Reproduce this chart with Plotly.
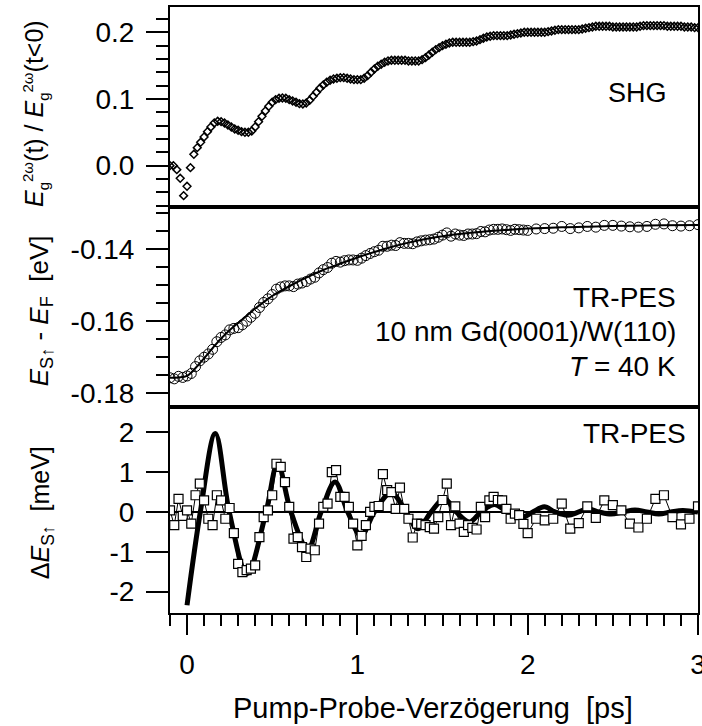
import plotly.graph_objects as go
from plotly.subplots import make_subplots

# ---------------- data ----------------
# SHG (top panel): pump-probe delay [ps] and normalised field change
shg_t = [
    -0.10, -0.08, -0.06, -0.04, -0.02, 0.00, 0.02, 0.04, 0.06, 0.08,
    0.10, 0.12, 0.14, 0.16, 0.18, 0.20, 0.22, 0.24, 0.26, 0.28,
    0.30, 0.32, 0.34, 0.36, 0.38, 0.40, 0.42, 0.44, 0.46, 0.48,
    0.50, 0.52, 0.54, 0.56, 0.58, 0.60, 0.62, 0.64, 0.66, 0.68,
    0.70, 0.72, 0.74, 0.76, 0.78, 0.80, 0.82, 0.84, 0.86, 0.88,
    0.90, 0.92, 0.94, 0.96, 0.98, 1.00, 1.02, 1.04, 1.06, 1.08,
    1.10, 1.12, 1.14, 1.16, 1.18, 1.20, 1.22, 1.24, 1.26, 1.28,
    1.30, 1.32, 1.34, 1.36, 1.38, 1.40, 1.42, 1.44, 1.46, 1.48,
    1.50, 1.52, 1.54, 1.56, 1.58, 1.60, 1.62, 1.64, 1.66, 1.68,
    1.70, 1.72, 1.74, 1.76, 1.78, 1.80, 1.82, 1.84, 1.86, 1.88,
    1.90, 1.92, 1.94, 1.96, 1.98, 2.00, 2.02, 2.04, 2.06, 2.08,
    2.10, 2.12, 2.14, 2.16, 2.18, 2.20, 2.22, 2.24, 2.26, 2.28,
    2.30, 2.32, 2.34, 2.36, 2.38, 2.40, 2.42, 2.44, 2.46, 2.48,
    2.50, 2.52, 2.54, 2.56, 2.58, 2.60, 2.62, 2.64, 2.66, 2.68,
    2.70, 2.72, 2.74, 2.76, 2.78, 2.80, 2.82, 2.84, 2.86, 2.88,
    2.90, 2.92, 2.94, 2.96, 2.98, 3.00,
]
shg_val = [
    0.000, 0.000, -0.006, -0.019, -0.045, -0.031, -0.003, 0.017, 0.027, 0.035,
    0.043, 0.051, 0.058, 0.064, 0.0665, 0.066, 0.064, 0.061, 0.058, 0.055,
    0.053, 0.051, 0.050, 0.050, 0.052, 0.058, 0.066, 0.074, 0.082, 0.089,
    0.095, 0.099, 0.101, 0.1015, 0.101, 0.099, 0.097, 0.095, 0.093, 0.0925,
    0.094, 0.098, 0.104, 0.110, 0.116, 0.121, 0.125, 0.128, 0.130, 0.131,
    0.132, 0.132, 0.131, 0.130, 0.129, 0.129, 0.129, 0.131, 0.135, 0.140,
    0.145, 0.149, 0.152, 0.155, 0.157, 0.158, 0.158, 0.158, 0.158, 0.158,
    0.157, 0.157, 0.157, 0.157, 0.159, 0.162, 0.166, 0.170, 0.174, 0.177,
    0.180, 0.182, 0.184, 0.185, 0.185, 0.185, 0.185, 0.185, 0.185, 0.186,
    0.187, 0.189, 0.191, 0.193, 0.194, 0.195, 0.195, 0.195, 0.195, 0.195,
    0.196, 0.197, 0.198, 0.199, 0.200, 0.200, 0.200, 0.200, 0.200, 0.200,
    0.200, 0.201, 0.202, 0.203, 0.204, 0.204, 0.204, 0.204, 0.204, 0.204,
    0.204, 0.205, 0.206, 0.207, 0.208, 0.209, 0.209, 0.209, 0.209, 0.209,
    0.208, 0.208, 0.208, 0.208, 0.208, 0.208, 0.208, 0.208, 0.209, 0.210,
    0.210, 0.210, 0.210, 0.210, 0.210, 0.210, 0.209, 0.209, 0.209, 0.209,
    0.209, 0.208, 0.208, 0.208, 0.207, 0.207,
]

# TR-PES (middle panel): delay [ps] and binding energy E_S - E_F [eV]
pes_t = [
    -0.100, -0.075, -0.050, -0.025, 0.000, 0.025, 0.050, 0.075, 0.100, 0.125,
    0.150, 0.175, 0.200, 0.225, 0.250, 0.275, 0.300, 0.325, 0.350, 0.375,
    0.400, 0.425, 0.450, 0.475, 0.500, 0.525, 0.550, 0.575, 0.600, 0.625,
    0.650, 0.675, 0.700, 0.725, 0.750, 0.775, 0.800, 0.825, 0.850, 0.875,
    0.900, 0.925, 0.950, 0.975, 1.000, 1.025, 1.050, 1.075, 1.100, 1.125,
    1.150, 1.175, 1.200, 1.225, 1.250, 1.275, 1.300, 1.325, 1.350, 1.375,
    1.400, 1.425, 1.450, 1.475, 1.500, 1.525, 1.550, 1.575, 1.600, 1.625,
    1.650, 1.675, 1.700, 1.725, 1.750, 1.775, 1.800, 1.825, 1.850, 1.875,
    1.900, 1.925, 1.950, 1.975,
    2.00, 2.05, 2.10, 2.15, 2.20, 2.25, 2.30, 2.35, 2.40, 2.45,
    2.50, 2.55, 2.60, 2.65, 2.70, 2.75, 2.80, 2.85, 2.90, 2.95, 3.00,
]
pes_energy = [
    -0.1757, -0.1760, -0.1753, -0.1756, -0.1752, -0.1745, -0.1726, -0.1710, -0.1700, -0.1691,
    -0.1678, -0.1657, -0.1645, -0.1638, -0.1624, -0.1620, -0.1618, -0.1610, -0.1600, -0.1589,
    -0.1578, -0.1562, -0.1548, -0.1538, -0.1526, -0.1511, -0.1505, -0.1502, -0.1502, -0.1504,
    -0.1497, -0.1494, -0.1490, -0.1483, -0.1478, -0.1466, -0.1457, -0.1451, -0.1439, -0.1434,
    -0.1436, -0.1432, -0.1430, -0.1430, -0.1431, -0.1425, -0.1418, -0.1412, -0.1407, -0.1403,
    -0.1392, -0.1392, -0.1389, -0.1390, -0.1382, -0.1384, -0.1384, -0.1385, -0.1380, -0.1377,
    -0.1375, -0.1374, -0.1372, -0.1367, -0.1361, -0.1355, -0.1364, -0.1358, -0.1361, -0.1362,
    -0.1358, -0.1358, -0.1357, -0.1351, -0.1352, -0.1347, -0.1345, -0.1345, -0.1344, -0.1346,
    -0.1348, -0.1345, -0.1346, -0.1347,
    -0.1348, -0.1344, -0.1343, -0.1342, -0.1337, -0.1343, -0.1341, -0.1337, -0.1339, -0.1334,
    -0.1334, -0.1336, -0.1338, -0.1339, -0.1337, -0.1331, -0.1330, -0.1335, -0.1336, -0.1335, -0.1332,
]
# smooth fit through TR-PES data
pes_fit_t = [-0.1, -0.05, 0.0, 0.05, 0.1, 0.15, 0.2, 0.25, 0.3, 0.35, 0.4, 0.45, 0.5,
             0.6, 0.7, 0.8, 0.9, 1.0, 1.1, 1.2, 1.3, 1.4, 1.5, 1.6, 1.7, 1.8, 1.9,
             2.0, 2.2, 2.4, 2.6, 2.8, 3.0]
pes_fit_energy = [-0.1757, -0.1756, -0.1752, -0.1730, -0.1703, -0.1675, -0.1648, -0.1625,
                  -0.1605, -0.1585, -0.1565, -0.1547, -0.1530, -0.1503, -0.1479, -0.1458,
                  -0.1440, -0.1423, -0.1408, -0.1394, -0.1382, -0.1372, -0.1364, -0.1358,
                  -0.1353, -0.1349, -0.1346, -0.1343, -0.1339, -0.1337, -0.1335, -0.1334,
                  -0.1333]

# Residual oscillation (bottom panel) [meV], same delays as pes_t
osc_residual = [
    0.04, -0.33, 0.33, -0.10, 0.04, -0.29, 0.42, 0.71, 0.29, -0.17,
    -0.33, 0.42, 0.29, -0.17, 0.10, -0.53, -1.30, -1.51, -1.46, -1.42,
    -1.34, -0.63, -0.13, 0.04, 0.42, 1.21, 1.13, 0.75, 0.13, -0.67,
    -0.63, -0.88, -1.13, -0.92, -0.96, -0.29, 0.13, 0.21, 1.00, 1.05,
    0.38, 0.38, 0.13, -0.29, -0.84, -0.60, -0.33, 0.00, 0.13, 0.15,
    0.95, 0.55, 0.50, 0.08, 0.61, 0.08, -0.17, -0.64, -0.29, -0.30,
    -0.33, -0.38, -0.42, -0.13, 0.30, 0.71, -0.33, 0.14, -0.29, -0.50,
    -0.33, -0.40, -0.44, 0.13, -0.13, 0.29, 0.38, 0.30, 0.29, 0.08,
    -0.17, -0.04, -0.08, -0.30,
    -0.53, -0.17, -0.21, -0.17, 0.21, -0.42, -0.28, 0.14, -0.15, 0.29,
    0.17, 0.04, -0.29, -0.39, -0.17, 0.33, 0.42, -0.13, -0.31, -0.17, 0.14,
]
# damped-oscillation fit (extrema and zero crossings) [meV]
osc_fit_t = [0.0, 0.078, 0.166, 0.248, 0.352, 0.464, 0.532, 0.61, 0.709, 0.787,
             0.869, 0.943, 1.022, 1.10, 1.198, 1.286, 1.355, 1.433, 1.511, 1.58,
             1.658, 1.726, 1.805, 1.88, 1.971, 2.03, 2.098, 2.16, 2.235, 2.30,
             2.352, 2.42, 2.49, 2.56, 2.63, 2.70, 2.77, 2.84, 2.91, 3.0]
osc_fit_val = [-2.34, 0.0, 1.97, 0.0, -1.55, 0.0, 1.21, 0.0, -0.92, 0.0,
               0.75, 0.0, -0.59, 0.0, 0.48, 0.0, -0.42, 0.0, 0.33, 0.0,
               -0.25, 0.0, 0.19, 0.0, -0.13, 0.0, 0.13, 0.0, -0.08, 0.0,
               0.08, 0.0, -0.05, 0.0, 0.05, 0.0, -0.05, 0.0, 0.04, 0.0]

x_ticks = [0, 1, 2, 3]
top_ticks = [0.0, 0.1, 0.2]
mid_ticks = [-0.18, -0.16, -0.14]
bot_ticks = [-2, -1, 0, 1, 2]

# ---------------- figure ----------------
FONT = "Liberation Sans, Arial, Helvetica, sans-serif"
BLACK = "black"

fig = make_subplots(rows=3, cols=1, shared_xaxes=True, vertical_spacing=0)

fig.add_trace(go.Scatter(
    x=shg_t, y=shg_val, mode="markers",
    marker=dict(symbol="diamond-open", size=6, color=BLACK, line=dict(width=1.5, color=BLACK)),
), row=1, col=1)

fig.add_trace(go.Scatter(
    x=pes_fit_t, y=pes_fit_energy, mode="lines",
    line=dict(color=BLACK, width=2, shape="spline"),
), row=2, col=1)
fig.add_trace(go.Scatter(
    x=pes_t, y=pes_energy, mode="markers",
    marker=dict(symbol="circle-open", size=10, color=BLACK, line=dict(width=1, color=BLACK)),
), row=2, col=1)

fig.add_trace(go.Scatter(
    x=osc_fit_t, y=osc_fit_val, mode="lines",
    line=dict(color=BLACK, width=5, shape="spline", smoothing=1.0),
), row=3, col=1)
fig.add_trace(go.Scatter(
    x=pes_t, y=osc_residual, mode="lines+markers",
    line=dict(color=BLACK, width=1),
    marker=dict(symbol="square", size=9, color="white", line=dict(width=1.2, color=BLACK)),
), row=3, col=1)

TICK_FONT = dict(size=28, color=BLACK, family=FONT)
axis_common = dict(
    showline=True, linewidth=2, linecolor=BLACK, mirror=True,
    showgrid=False, zeroline=False, automargin=False,
    tickfont=TICK_FONT, tickwidth=2, tickcolor=BLACK,
)

x_range = [-0.1, 3.0]
fig.update_xaxes(range=x_range, **axis_common)
fig.update_xaxes(ticks="", showticklabels=False, row=1, col=1)
fig.update_xaxes(ticks="", showticklabels=False, row=2, col=1)
fig.update_xaxes(
    ticks="outside", ticklen=20, showticklabels=True,
    tickmode="array", tickvals=x_ticks, ticktext=[str(v) for v in x_ticks],
    ticklabelstandoff=5, ticklabeloverflow="allow",
    minor=dict(ticks="outside", ticklen=11, tickwidth=2, tickcolor=BLACK,
               tick0=0, dtick=0.1, showgrid=False),
    row=3, col=1,
)

minor_y = dict(ticks="outside", ticklen=12, tickwidth=2, tickcolor=BLACK, showgrid=False)
fig.update_yaxes(**axis_common)
fig.update_yaxes(
    domain=[0.67, 1.0], range=[-0.062, 0.238],
    ticks="outside", ticklen=22, tickmode="array", tickvals=top_ticks,
    ticktext=[f"{v:.1f}" for v in top_ticks], ticklabelstandoff=6,
    minor=dict(tick0=0, dtick=0.02, **minor_y),
    row=1, col=1,
)
fig.update_yaxes(
    domain=[0.34, 0.67], range=[-0.1838, -0.1283],
    ticks="outside", ticklen=22, tickmode="array", tickvals=mid_ticks,
    ticktext=[f"{v:.2f}" for v in mid_ticks], ticklabelstandoff=6,
    minor=dict(tick0=-0.14, dtick=0.005, **minor_y),
    row=2, col=1,
)
fig.update_yaxes(
    domain=[0.0, 0.34], range=[-2.535, 2.635],
    ticks="outside", ticklen=22, tickmode="array", tickvals=bot_ticks,
    ticktext=[str(v) for v in bot_ticks], ticklabelstandoff=6,
    zeroline=True, zerolinewidth=2, zerolinecolor=BLACK,
    row=3, col=1,
)

ann_font = dict(family=FONT, size=28, color=BLACK)
SUP = "<span style='font-size:15px'>{}</span>"
top_title = ("<i>E</i><sub>" + SUP.format("g") + "</sub><sup>" + SUP.format("2\u03c9") + "</sup>(t) / "
             "<i>E</i><sub>" + SUP.format("g") + "</sub><sup>" + SUP.format("2\u03c9") + "</sup>(t&lt;0)")
annotations = [
    dict(text="SHG", x=0.945, y=0.858, xanchor="right", yanchor="middle",
         font=dict(family=FONT, size=27, color=BLACK)),
    dict(text="TR-PES", x=0.962, y=0.521, xanchor="right", yanchor="middle", font=ann_font),
    dict(text="10 nm Gd(0001)/W(110)", x=0.962, y=0.464, xanchor="right", yanchor="middle", font=ann_font),
    dict(text="<i>T</i> = 40 K", x=0.962, y=0.406, xanchor="right", yanchor="middle", font=ann_font),
    dict(text="TR-PES", x=0.981, y=0.297, xanchor="right", yanchor="middle", font=ann_font),
    dict(text=top_title, x=-0.2557, y=0.825, textangle=-90, xanchor="center", yanchor="middle",
         font=dict(family=FONT, size=25, color=BLACK)),
    dict(text="<i>E</i><sub>S\u2191</sub> - <i>E</i><sub>F</sub>\u00a0 [eV]",
         x=-0.246, y=0.498, textangle=-90, xanchor="center", yanchor="middle",
         font=dict(family=FONT, size=26, color=BLACK)),
    dict(text="\u0394<i>E</i><sub>S\u2191</sub>\u00a0 [meV]",
         x=-0.242, y=0.165, textangle=-90, xanchor="center", yanchor="middle",
         font=dict(family=FONT, size=25, color=BLACK)),
    dict(text="Pump-Probe-Verz\u00f6gerung\u00a0 [ps]",
         x=0.498, y=-0.1568, xanchor="center", yanchor="middle",
         font=dict(family=FONT, size=29, color=BLACK)),
]
for a in annotations:
    a.update(xref="paper", yref="paper", showarrow=False)

fig.update_layout(
    width=702, height=726,
    margin=dict(l=170, r=4, t=7, b=113),
    paper_bgcolor="white", plot_bgcolor="white",
    showlegend=False,
    font=dict(family=FONT, color=BLACK),
    annotations=annotations,
)

fig.write_html("out.html")
